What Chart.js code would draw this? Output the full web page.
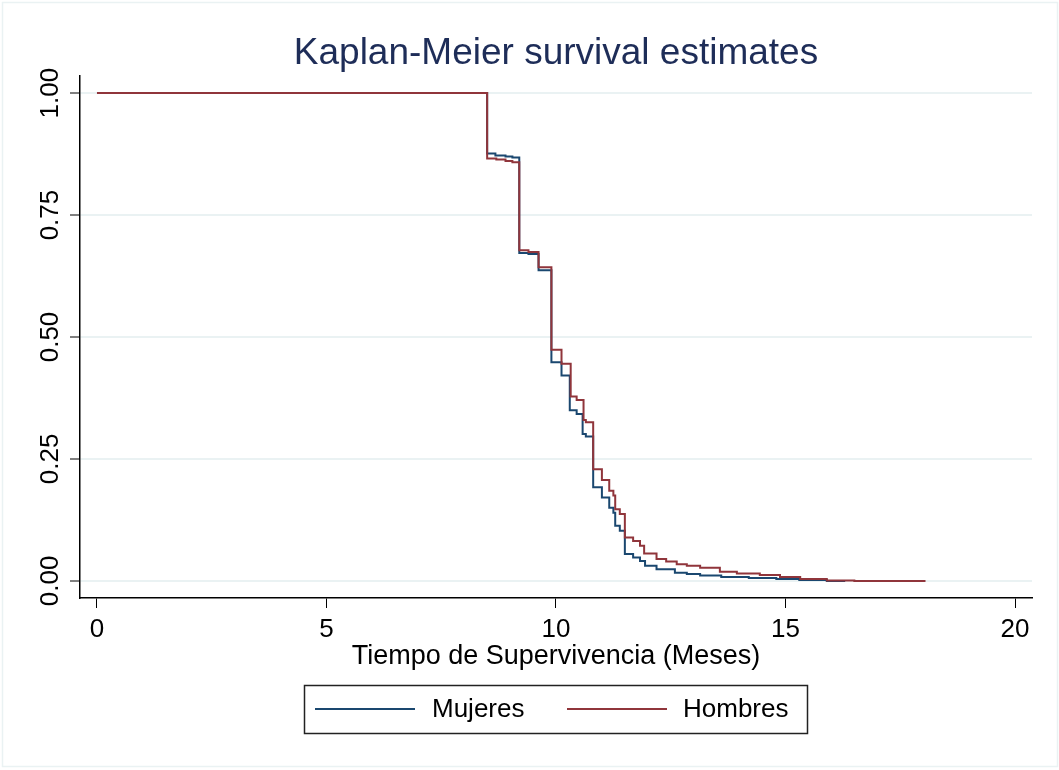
<!DOCTYPE html>
<html>
<head>
<meta charset="utf-8">
<script src="https://cdn.jsdelivr.net/npm/chart.js@4"></script>
<style>
  html, body { margin: 0; padding: 0; background: #fff; }
  #c { display: block; }
</style>
</head>
<body>
<canvas id="c" width="1059" height="770"></canvas>
<script>
// KM step data (time in months, survival)
const mujeresT = [0, 8.5, 8.68, 8.9, 9.05, 9.2, 9.4, 9.62, 9.9, 10.12, 10.3, 10.45, 10.58, 10.65, 10.81, 11.0, 11.16, 11.25, 11.29, 11.39, 11.5, 11.68, 11.83, 11.94, 12.19, 12.59, 12.85, 13.14, 13.6, 14.2, 14.8, 15.3, 15.9, 16.3];
const mujeresS = [1.0, 0.876, 0.872, 0.870, 0.868, 0.672, 0.670, 0.637, 0.448, 0.421, 0.350, 0.342, 0.301, 0.296, 0.192, 0.171, 0.150, 0.140, 0.113, 0.103, 0.055, 0.048, 0.041, 0.031, 0.024, 0.017, 0.014, 0.011, 0.008, 0.006, 0.004, 0.002, 0.0, 0.0];
const hombresT = [0, 8.5, 8.7, 8.9, 9.05, 9.2, 9.4, 9.62, 9.9, 10.12, 10.32, 10.45, 10.6, 10.65, 10.81, 11.0, 11.16, 11.25, 11.29, 11.39, 11.5, 11.68, 11.83, 11.92, 12.19, 12.4, 12.63, 12.85, 13.14, 13.57, 13.94, 14.44, 14.88, 15.32, 15.9, 16.5, 18.05];
const hombresS = [1.0, 0.866, 0.864, 0.861, 0.858, 0.678, 0.674, 0.643, 0.474, 0.445, 0.378, 0.371, 0.330, 0.325, 0.229, 0.207, 0.185, 0.175, 0.147, 0.137, 0.089, 0.082, 0.072, 0.056, 0.045, 0.040, 0.034, 0.031, 0.027, 0.019, 0.015, 0.012, 0.008, 0.004, 0.001, 0.0, 0.0];

const xTicks = [0, 5, 10, 15, 20];
const yTicks = [0, 0.25, 0.5, 0.75, 1.0];
const yTickLabels = ['0.00', '0.25', '0.50', '0.75', '1.00'];

const BLUE = '#1a476f';
const RED = '#90353b';
const NAVY = '#1e2d58';
const GRID = '#eaf2f3';
const FONT = '"Liberation Sans", Arial, sans-serif';

const pts = (ts, ss) => ts.map((t, i) => ({ x: t, y: ss[i] }));

// title, rotated y labels, x title, legend box, outer frame
const decor = {
  id: 'decor',
  afterDraw(chart) {
    const ctx = chart.ctx;
    const ys = chart.scales.y;
    const area = chart.chartArea;
    const cx = (area.left + area.right) / 2;
    ctx.save();

    ctx.strokeStyle = GRID;
    ctx.lineWidth = 1.5;
    ctx.strokeRect(2.5, 2.5, 1055, 764);

    ctx.fillStyle = NAVY;
    ctx.font = '37px ' + FONT;
    ctx.textAlign = 'center';
    ctx.textBaseline = 'alphabetic';
    ctx.fillText('Kaplan-Meier survival estimates', cx, 64);

    ctx.fillStyle = '#000';
    ctx.font = '26px ' + FONT;
    yTicks.forEach((v, i) => {
      ctx.save();
      ctx.translate(58, ys.getPixelForValue(v));
      ctx.rotate(-Math.PI / 2);
      ctx.fillText(yTickLabels[i], 0, 0);
      ctx.restore();
    });

    ctx.font = '27px ' + FONT;
    ctx.fillText('Tiempo de Supervivencia (Meses)', cx, 664);

    // legend
    ctx.strokeStyle = '#222';
    ctx.lineWidth = 1.5;
    ctx.strokeRect(304.5, 685.5, 503, 48);
    const items = [
      { label: 'Mujeres', color: BLUE, x0: 315, x1: 415, tx: 432 },
      { label: 'Hombres', color: RED, x0: 567, x1: 667, tx: 683 },
    ];
    ctx.font = '26px ' + FONT;
    ctx.textAlign = 'left';
    ctx.textBaseline = 'middle';
    items.forEach((it) => {
      ctx.strokeStyle = it.color;
      ctx.lineWidth = 2;
      ctx.beginPath();
      ctx.moveTo(it.x0, 709);
      ctx.lineTo(it.x1, 709);
      ctx.stroke();
      ctx.fillStyle = '#000';
      ctx.fillText(it.label, it.tx, 710);
    });
    ctx.restore();
  },
};

new Chart(document.getElementById('c'), {
  type: 'line',
  data: {
    datasets: [
      { label: 'Mujeres', data: pts(mujeresT, mujeresS), borderColor: BLUE, borderWidth: 2, stepped: true, pointRadius: 0, fill: false, order: 1 },
      { label: 'Hombres', data: pts(hombresT, hombresS), borderColor: RED, borderWidth: 2, stepped: true, pointRadius: 0, fill: false, order: 0 },
    ],
  },
  plugins: [decor],
  options: {
    responsive: false,
    animation: false,
    devicePixelRatio: 1,
    layout: { padding: { top: 76, right: 27, left: 0, bottom: 0 } },
    plugins: { legend: { display: false }, title: { display: false }, tooltip: { enabled: false } },
    scales: {
      x: {
        type: 'linear',
        min: -0.37,
        max: 20.37,
        afterBuildTicks: (s) => { s.ticks = xTicks.map((v) => ({ value: v })); },
        afterFit: (s) => { s.height = 172; },
        grid: { drawOnChartArea: false, tickColor: '#000', tickLength: 10, tickWidth: 1 },
        border: { color: '#000', width: 1.5 },
        ticks: { color: '#000', font: { family: FONT, size: 26 }, padding: 6, maxRotation: 0, autoSkip: false },
      },
      y: {
        type: 'linear',
        min: -0.035,
        max: 1.035,
        afterBuildTicks: (s) => { s.ticks = yTicks.map((v) => ({ value: v })); },
        afterFit: (s) => { s.width = 80; },
        grid: { color: GRID, lineWidth: 2, tickColor: '#000', tickLength: 10, tickWidth: 1 },
        border: { color: '#000', width: 1.5 },
        ticks: { display: false },
      },
    },
  },
});
</script>
</body>
</html>
